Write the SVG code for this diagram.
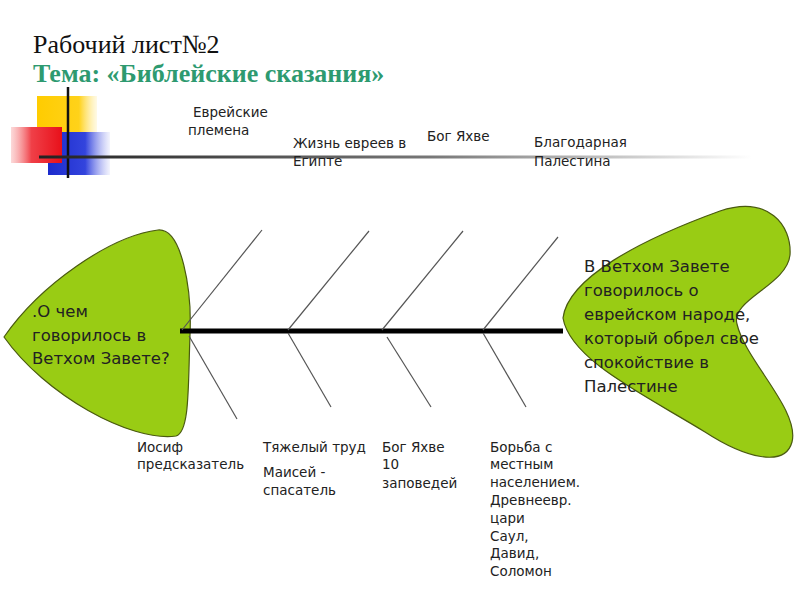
<svg xmlns="http://www.w3.org/2000/svg" width="800" height="600" viewBox="0 0 800 600">
<defs>
<linearGradient id="gYellow" x1="0" y1="0" x2="1" y2="0"><stop offset="0" stop-color="#FFCC00"/><stop offset="0.7" stop-color="#FFD21A"/><stop offset="1" stop-color="#FFE680" stop-opacity="0.2"/></linearGradient>
<linearGradient id="gRed" x1="1" y1="0" x2="0" y2="0"><stop offset="0" stop-color="#E8101A"/><stop offset="0.6" stop-color="#F04048"/><stop offset="1" stop-color="#F8A0A0" stop-opacity="0.4"/></linearGradient>
<linearGradient id="gBlue" x1="0" y1="0" x2="1" y2="0"><stop offset="0" stop-color="#1C2BCC"/><stop offset="0.6" stop-color="#3344DD"/><stop offset="1" stop-color="#8890EE" stop-opacity="0.1"/></linearGradient>
<linearGradient id="gLine" x1="0" y1="0" x2="1" y2="0"><stop offset="0" stop-color="#222"/><stop offset="0.55" stop-color="#777"/><stop offset="1" stop-color="#fff"/></linearGradient>
</defs>
<style>
.t{font-family:"DejaVu Sans",Verdana,sans-serif;fill:#222;}
.s{font-size:13.5px;}
.b{font-size:16.5px;}
.shape{fill:#99CC14;stroke:#4A5A10;stroke-width:1.2;}
.bone{stroke:#555;stroke-width:1.2;fill:none;}
</style>
<rect width="800" height="600" fill="#fff"/>
<g id="title">
<text x="33" y="53" font-family="Liberation Serif, serif" font-size="26" fill="#111">Рабочий лист№2</text>
<text x="33" y="82" font-family="Liberation Serif, serif" font-size="26" font-weight="bold" fill="#2E9A70">Тема: «Библейские сказания»</text>
</g>
<g id="decor">
<rect x="37" y="96" width="60" height="36" fill="url(#gYellow)"/>
<rect x="48" y="132" width="62" height="43" fill="url(#gBlue)"/>
<rect x="11" y="127" width="51" height="36" fill="url(#gRed)"/>
<line x1="68" y1="87" x2="68" y2="178" stroke="#111" stroke-width="2.5"/>
<rect x="39" y="155.5" width="713" height="3" fill="url(#gLine)"/>
</g>
<g id="head">
<path class="shape" d="M4 337 C40 285 110 236 158 230 C182 228 192 290 190 335 C188 385 190 432 176 436 C130 442 45 395 4 337 Z"/>
<text class="t b" x="32" y="317">.О чем</text>
<text class="t b" x="32" y="341">говорилось в</text>
<text class="t b" x="32" y="364">Ветхом Завете?</text>
</g>
<g id="tail">
<path class="shape" d="M563 318 C568 278 640 240 720 211 C768 195 792 225 790 255 C787 285 730 300 737 324 C745 360 800 410 792 442 C785 468 745 458 705 432 C645 395 570 360 563 318 Z"/>
<text class="t b" x="584" y="272">В Ветхом Завете</text>
<text class="t b" x="584" y="296">говорилось о</text>
<text class="t b" x="584" y="320">еврейском народе,</text>
<text class="t b" x="584" y="344">который обрел свое</text>
<text class="t b" x="584" y="368">спокойствие в</text>
<text class="t b" x="584" y="392">Палестине</text>
</g>
<g id="connectors">
<line x1="180" y1="331" x2="563" y2="331" stroke="#000" stroke-width="5"/>
<line class="bone" x1="182" y1="330" x2="262" y2="230"/>
<line class="bone" x1="288" y1="330" x2="369" y2="231"/>
<line class="bone" x1="382" y1="330" x2="463" y2="231"/>
<line class="bone" x1="483" y1="330" x2="558" y2="237"/>
<line class="bone" x1="189" y1="336" x2="237" y2="419"/>
<line class="bone" x1="288" y1="333" x2="331" y2="407"/>
<line class="bone" x1="387" y1="337" x2="431" y2="407"/>
<line class="bone" x1="483" y1="333" x2="526" y2="407"/>
</g>
<g id="labels-top">
<text class="t s" x="193" y="117">Еврейские</text>
<text class="t s" x="188" y="135">племена</text>
<text class="t s" x="293" y="148">Жизнь евреев в</text>
<text class="t s" x="293" y="166">Египте</text>
<text class="t s" x="427" y="141">Бог Яхве</text>
<text class="t s" x="534" y="147">Благодарная</text>
<text class="t s" x="534" y="166">Палестина</text>
</g>
<g id="labels-bottom">
<text class="t s" x="137" y="452">Иосиф</text>
<text class="t s" x="137" y="469">предсказатель</text>
<text class="t s" x="263" y="452">Тяжелый труд</text>
<text class="t s" x="263" y="477">Маисей -</text>
<text class="t s" x="263" y="495">спасатель</text>
<text class="t s" x="382" y="452">Бог Яхве</text>
<text class="t s" x="382" y="469">10</text>
<text class="t s" x="382" y="488">заповедей</text>
<text class="t s" x="490" y="452">Борьба с</text>
<text class="t s" x="490" y="469">местным</text>
<text class="t s" x="490" y="487">населением.</text>
<text class="t s" x="490" y="505">Древнеевр.</text>
<text class="t s" x="490" y="523">цари</text>
<text class="t s" x="490" y="541">Саул,</text>
<text class="t s" x="490" y="558">Давид,</text>
<text class="t s" x="490" y="576">Соломон</text>
</g>
</svg>
